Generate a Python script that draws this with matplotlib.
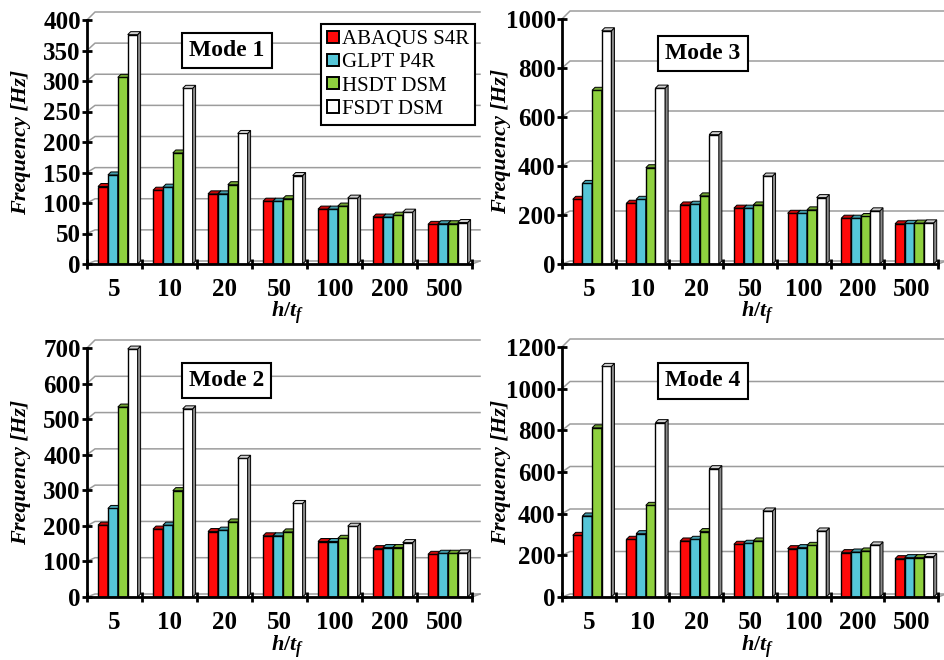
import numpy as np
import matplotlib

matplotlib.use("Agg")

import matplotlib.pyplot as plt
from matplotlib.patches import Patch, Polygon
from matplotlib.colors import to_rgb

plt.rcParams["font.family"] = "Liberation Serif"
plt.rcParams["mathtext.fontset"] = "custom"
plt.rcParams["mathtext.rm"] = "Liberation Serif:bold"
plt.rcParams["mathtext.it"] = "Liberation Serif:italic:bold"

categories = ["5", "10", "20", "50", "100", "200", "500"]
series = ["ABAQUS S4R", "GLPT P4R", "HSDT DSM", "FSDT DSM"]
colors = ["#ff0a0a", "#55c6d8", "#8fd13f", "#ffffff"]

mode1 = {
    "ABAQUS S4R": [127, 121, 115, 103, 90, 77, 65],
    "GLPT P4R": [146, 126, 115, 103, 90, 77, 66],
    "HSDT DSM": [306, 182, 130, 107, 95, 80, 66],
    "FSDT DSM": [376, 288, 214, 145, 108, 85, 68],
}
mode2 = {
    "ABAQUS S4R": [202, 191, 184, 172, 156, 136, 120],
    "GLPT P4R": [249, 202, 188, 172, 156, 139, 123],
    "HSDT DSM": [534, 299, 211, 183, 165, 139, 123],
    "FSDT DSM": [697, 529, 390, 263, 199, 153, 124],
}
mode3 = {
    "ABAQUS S4R": [264, 248, 241, 228, 207, 187, 164],
    "GLPT P4R": [329, 264, 244, 228, 207, 187, 166],
    "HSDT DSM": [709, 393, 278, 241, 221, 194, 167],
    "FSDT DSM": [952, 718, 528, 359, 271, 217, 168],
}
mode4 = {
    "ABAQUS S4R": [296, 277, 269, 253, 232, 213, 184],
    "GLPT P4R": [389, 304, 277, 258, 237, 216, 189],
    "HSDT DSM": [812, 440, 314, 269, 248, 221, 189],
    "FSDT DSM": [1107, 837, 616, 413, 317, 250, 194],
}

W, H = 944, 660
fig = plt.figure(figsize=(W / 100, H / 100), dpi=100)


def shade(c, f):
    r, g, b = to_rgb(c)
    return (r * f, g * f, b * f)


def panel(rect_px, data, ymax, ystep, title, title_xy, ylab_x):
    x0, y_top, x1, y0 = rect_px
    ax = fig.add_axes([x0 / W, 1 - y0 / H, (x1 - x0) / W, (y0 - y_top) / H])
    n = len(categories)
    ax.set_xlim(-0.5, n - 0.5)
    ax.set_ylim(0, ymax)
    px_x = (x1 - x0) / n
    px_y = (y0 - y_top) / ymax

    # back wall gridlines (fake perspective)
    yt = np.arange(0, ymax + 1, ystep)
    gdx = 8 / px_x
    for v in yt:
        gdy = (3 + 5 * v / ymax) / px_y
        ax.plot([-0.5, -0.5 + gdx, n - 0.5 + gdx], [v, v + gdy, v + gdy],
                color="#9c9c9c", lw=1.1, zorder=1, clip_on=False)
    ax.plot([n - 0.5, n - 0.5 + gdx], [0, 3 / px_y], color="#9c9c9c",
            lw=1.1, zorder=1, clip_on=False)

    # bars with a small 3d side and top face
    bw = 0.18
    ddx = 3 / px_x
    ddy = 3 / px_y
    for k, name in enumerate(series):
        vals = data[name]
        lefts = np.arange(n) - 0.3 + k * bw
        z = 3 + k
        ax.bar(lefts, vals, width=bw, align="edge", color=colors[k],
               edgecolor="black", linewidth=1.0, zorder=z)
        for xl, h in zip(lefts, vals):
            side = [(xl + bw, 0), (xl + bw + ddx, ddy),
                    (xl + bw + ddx, h + ddy), (xl + bw, h)]
            top = [(xl, h), (xl + ddx, h + ddy), (xl + bw + ddx, h + ddy),
                   (xl + bw, h)]
            sc = "#8a8a8a" if colors[k] == "#ffffff" else shade(colors[k], 0.6)
            tc = "#d0d0d0" if colors[k] == "#ffffff" else shade(colors[k], 0.8)
            ax.add_patch(Polygon(side, closed=True, facecolor=sc,
                                 edgecolor="black", lw=0.7, zorder=z,
                                 clip_on=False))
            ax.add_patch(Polygon(top, closed=True, facecolor=tc,
                                 edgecolor="black", lw=0.7, zorder=z,
                                 clip_on=False))

    for s in ["top", "right"]:
        ax.spines[s].set_visible(False)
    for s in ["left", "bottom"]:
        ax.spines[s].set_linewidth(2)
        ax.spines[s].set_zorder(10)
    ax.patch.set_alpha(0)

    ax.set_yticks(yt)
    ax.set_yticklabels([f"{int(v)}" for v in yt], fontsize=18,
                       fontweight="bold")
    ax.set_xticks(np.arange(n + 1) - 0.5)
    ax.set_xticklabels([])
    ax.set_xticks(np.arange(n), categories, minor=True, fontsize=18,
                  fontweight="bold")
    ax.tick_params(axis="both", which="major", direction="inout", length=7,
                   width=2, pad=1)
    ax.tick_params(axis="x", which="minor", length=0, pad=10)

    ax.set_ylabel("Frequency [Hz]", fontsize=16, fontweight="bold",
                  fontstyle="italic")
    ax.yaxis.set_label_coords(ylab_x, 0.5)
    ax.set_xlabel(r"$h/t_f$", fontsize=16)
    ax.xaxis.set_label_coords(0.52, -0.145)

    ax.text(title_xy[0], title_xy[1], title, transform=ax.transAxes,
            ha="center", va="center", fontsize=17, fontweight="bold",
            zorder=20,
            bbox=dict(boxstyle="square,pad=0.3", facecolor="white",
                      edgecolor="black", linewidth=1.5))
    return ax


ax1 = panel((87, 20, 472, 264), mode1, 400, 50, "Mode 1", (0.363, 0.874), -0.145)
ax3 = panel((562, 19, 938, 264), mode3, 1000, 200, "Mode 3", (0.375, 0.86), -0.135)
ax2 = panel((87, 348, 472, 597), mode2, 700, 100, "Mode 2", (0.363, 0.87), -0.145)
ax4 = panel((562, 347, 938, 597), mode4, 1200, 200, "Mode 4", (0.375, 0.864), -0.135)

handles = [Patch(facecolor=c, edgecolor="black", linewidth=1.4) for c in colors]
leg = ax1.legend(handles, series, loc="upper right",
                 bbox_to_anchor=(475 / W, 1 - 24 / H),
                 bbox_transform=fig.transFigure, borderaxespad=0,
                 fontsize=15, handlelength=0.55, handleheight=0.55,
                 handletextpad=0.15, labelspacing=0.2, borderpad=0.3,
                 fancybox=False, framealpha=1, edgecolor="black")
leg.get_frame().set_linewidth(1.5)
leg.set_zorder(30)

fig.savefig("out.png", dpi=100)
